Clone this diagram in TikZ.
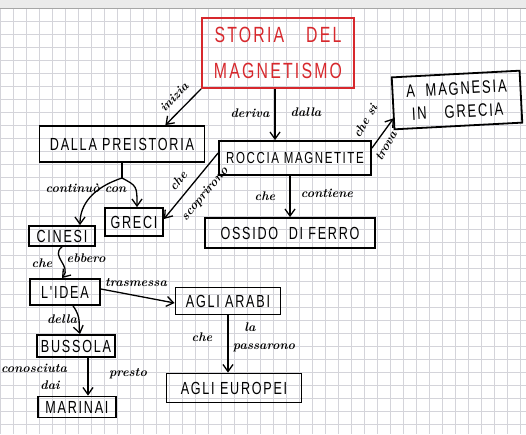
\documentclass[tikz,border=0pt]{standalone}
\usepackage{fontspec}
\newfontfamily\hand[LetterSpace=10,FakeStretch=0.72]{Liberation Sans}
\usetikzlibrary{arrows.meta,calc}
\definecolor{gridc}{RGB}{212,212,218}
\definecolor{redink}{RGB}{215,40,45}
\begin{document}
\begin{tikzpicture}[x=1pt,y=-1pt,
  box/.style={draw=black,line width=1.8pt,inner sep=0pt,text=black,
    font=\hand\fontsize{17.5}{20}\selectfont},
  conn/.style={-{Straight Barb[length=7pt,width=10pt]},line width=1.3pt},
  lbl/.style={font=\bfseries\itshape\fontsize{12.5}{14}\selectfont,inner sep=1pt}]
\useasboundingbox (0,0) rectangle (526,434);
\fill[white] (0,0) rectangle (526,434);
\fill[black!8] (0,0) rectangle (526,8);
\foreach \k in {0,...,40} {\draw[gridc,line width=0.7pt] (13*\k,8) -- (13*\k,434);}
\foreach \k in {0,...,33} {\draw[gridc,line width=0.7pt] (0,8+13*\k) -- (526,8+13*\k);}
\draw[black!35,line width=0.8pt] (0,8) -- (526,8);

% nodes
\node[box,draw=redink,text=redink,minimum width=152,minimum height=70,align=center,
  font=\hand\fontsize{22}{36}\selectfont] (title) at (278,53) {STORIA\quad DEL\\MAGNETISMO};
\node[box,minimum width=128,minimum height=52,align=center,rotate=3,
  font=\hand\fontsize{18}{23}\selectfont] (magn) at (457,100) {A\ \ MAGNESIA\\IN\quad GRECIA};
\node[box,minimum width=165,minimum height=36] (prei) at (122,144) {DALLA PREISTORIA};
\node[box,minimum width=152,minimum height=34,font=\hand\fontsize{16}{18}\selectfont] (rocc) at (295,158) {ROCCIA MAGNETITE};
\node[box,minimum width=58,minimum height=28] (greci) at (134,222) {GRECI};
\node[box,minimum width=170,minimum height=30] (ossido) at (290,233) {OSSIDO\ \ DI FERRO};
\node[box,minimum width=66,minimum height=20] (cinesi) at (62,236) {CINESI};
\node[box,minimum width=70,minimum height=26] (idea) at (65,292) {L'IDEA};
\node[box,minimum width=105,minimum height=27] (arabi) at (228,301) {AGLI ARABI};
\node[box,minimum width=78,minimum height=22] (bussola) at (76,346) {BUSSOLA};
\node[box,minimum width=135,minimum height=29] (europei) at (234,388) {AGLI EUROPEI};
\node[box,minimum width=78,minimum height=21] (marinai) at (77,407) {MARINAI};

% connectors
\draw[conn] (title.south west) -- ([xshift=-40pt]prei.north east);
\node[lbl,rotate=46] (l1) at (174,97) {inizia};

\draw[conn] ([xshift=-3pt]title.south) -- ([xshift=-3pt]title.south |- rocc.north);
\node[lbl] (l2) at (250,113) {deriva};
\node[lbl] (l3) at (306,112) {dalla};

\draw[conn] ([yshift=-8pt]rocc.north east) -- ([yshift=12pt]magn.south west);
\node[lbl,rotate=60] (l4) at (365,121) {che si};
\node[lbl,rotate=60] (l5) at (386,146) {trova};

\draw[conn] ([yshift=5pt]rocc.west) -- ([yshift=3pt]greci.east);
\node[lbl,rotate=50] (l6) at (178,181) {che};
\node[lbl,rotate=50] (l7) at (205,194) {scoprirono};

\draw[conn] (ossido.north |- rocc.south) -- (ossido.north);
\node[lbl] (l8) at (265,196) {che};
\node[lbl] (l9) at (327,193) {contiene};

\coordinate (split) at (122,178);
\draw[line width=1.3pt] (prei.south) -- (split);
\draw[conn] (split) .. controls (137,186) .. ([xshift=3pt]greci.north);
\draw[conn] (split) .. controls (92,188) and (80,205) .. ([xshift=18pt]cinesi.north);
\node[lbl] (l10) at (86,188) {continuò con};

\draw[conn] (cinesi.south) .. controls (50,256) and (72,266) .. (idea.north -| cinesi.south);
\node[lbl] (l11) at (42,263) {che};
\node[lbl] (l12) at (86,258) {ebbero};

\draw[conn] ([yshift=3pt]idea.east) -- ([yshift=-2pt]arabi.west);
\node[lbl] (l13) at (136,283) {trasmessa};

\draw[conn] ([xshift=8pt]idea.south) .. controls (82,318) and (78,325) .. ([xshift=4pt]bussola.north);
\node[lbl] (l14) at (62,319) {della};

\draw[conn] (arabi.south) -- (arabi.south |- europei.north);
\node[lbl] (l15) at (202,337) {che};
\node[lbl] (l16) at (250,327) {la};
\node[lbl] (l17) at (264,348) {passarono};

\draw[conn] ([xshift=12pt]bussola.south) -- ([xshift=11pt]marinai.north);
\node[lbl] (l18) at (34,368) {conosciuta};
\node[lbl] (l19) at (50,385) {dai};
\node[lbl] (l20) at (128,374) {presto};
\end{tikzpicture}
\end{document}
